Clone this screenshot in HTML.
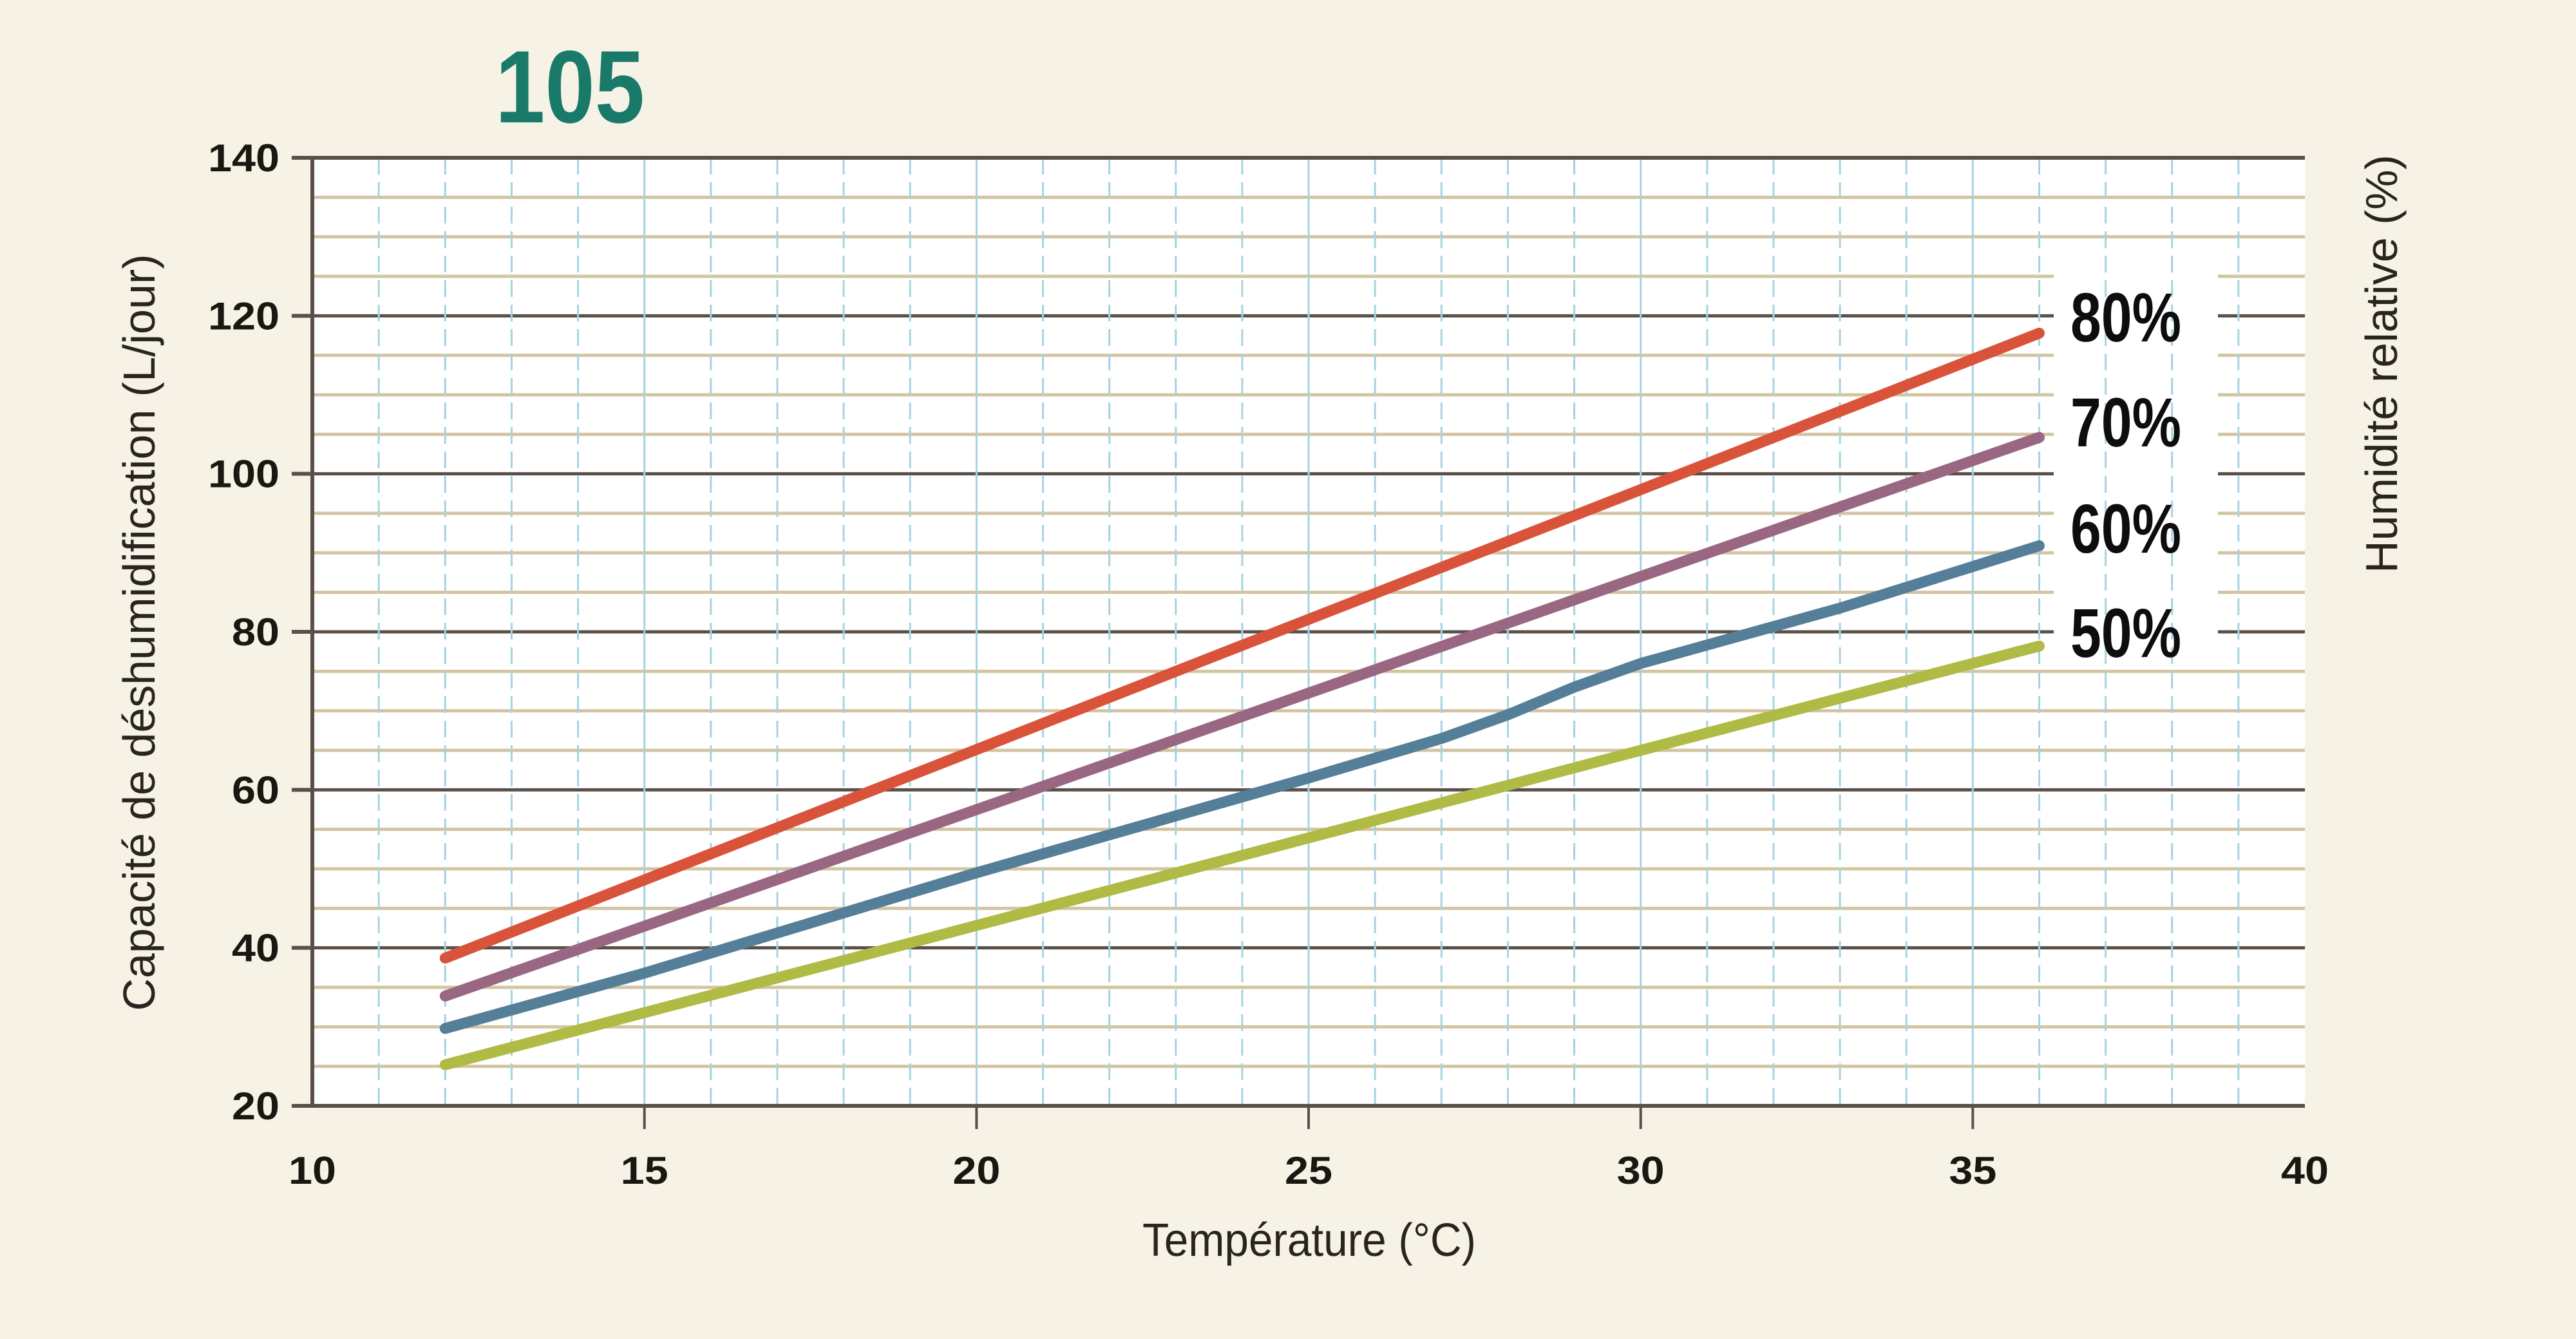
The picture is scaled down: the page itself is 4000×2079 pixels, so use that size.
<!DOCTYPE html>
<html><head><meta charset="utf-8"><style>
html,body{margin:0;padding:0;background:#f6f3e6;}
svg{display:block;}
text{font-family:"Liberation Sans Narrow","Liberation Sans",sans-serif;}
</style></head><body>
<svg id="chart" width="4000" height="2079" viewBox="0 0 4000 2079">
<rect width="4000" height="2079" fill="#f6f3e6"/>
<text x="885" y="190" font-size="160" font-weight="bold" fill="#1a7a6a" text-anchor="middle" textLength="232" lengthAdjust="spacingAndGlyphs">105</text>
<g id="plot"></g>
<text transform="translate(240,982) rotate(-90)" font-size="70" fill="#2a2420" text-anchor="middle">Capacité de déshumidification (L/jour)</text>
<text transform="translate(3722,565) rotate(-90)" font-size="70" fill="#2a2420" text-anchor="middle">Humidité relative (%)</text>
<text x="2033" y="1950" font-size="72" fill="#2a2420" text-anchor="middle" textLength="518" lengthAdjust="spacingAndGlyphs">Température (°C)</text>
</svg>
<script>
const xTicks=[10,15,20,25,30,35,40];
const yTicks=[20,40,60,80,100,120,140];
const seriesNames=["80%","70%","60%","50%"];
const t80=[12,18,24,30,36], v80=[38.7,58.5,78.3,98.0,117.8];
const t70=[12,18,24,30,36], v70=[33.9,51.6,69.3,87.0,104.6];
const t60=[12,15,20,25,27,28,29,30,33,36], v60=[29.8,36.8,49.5,61.5,66.5,69.5,73.0,76.0,83.0,90.9];
const t50=[12,18,24,30,36], v50=[25.2,38.4,51.7,65.0,78.2];
const colors=["#d9533a","#9a6782","#557f99","#afbb45"];

const X0=485,X1=3579,Y0=1717,Y1=245;
const xs=v=>X0+(v-10)/30*(X1-X0);
const ys=v=>Y0-(v-20)/120*(Y0-Y1);
const NS="http://www.w3.org/2000/svg";
const g=document.getElementById('plot');
function mk(tag,attrs,parent){const e=document.createElementNS(NS,tag);for(const k in attrs)e.setAttribute(k,attrs[k]);(parent||g).appendChild(e);return e;}

const bg=mk('rect',{x:X0,y:Y1,width:X1-X0,height:Y0-Y1,fill:'#ffffff'});


for(let v=25;v<140;v+=5){
  const major=(v%20===0);
  const l=mk('line',{x1:X0,x2:X1,y1:ys(v),y2:ys(v),stroke:major?'#5a5048':'#d3c4a2','stroke-width':5});
  
  
}
const wb=mk('rect',{x:3189,y:420,width:255,height:600,fill:'#ffffff'});


for(let v=11;v<40;v++){
  const major=(v%5===0);
  const l=mk('line',{x1:xs(v),x2:xs(v),y1:Y1,y2:Y0,stroke:'#a6d3e2','stroke-width':3});
  if(!major)l.setAttribute('stroke-dasharray','26 12');
  
  
}
const fr=mk('path',{d:`M${X0},${Y1} H${X1} M${X0},${Y1} V${Y0} H${X1}`,stroke:'#5a5048','stroke-width':6,fill:'none'});


yTicks.forEach(v=>{
  const t=mk('line',{x1:453,x2:X0,y1:ys(v),y2:ys(v),stroke:'#5a5048','stroke-width':6});
  
  
  const s=String(v);
  const tx=mk('text',{x:434,y:ys(v)+21,'font-size':60,'font-weight':'bold','text-anchor':'end',fill:'#1a1612',textLength:s.length*37,lengthAdjust:'spacingAndGlyphs'});
  tx.textContent=s;
  
  
});
xTicks.forEach(v=>{
  if(v>10&&v<40){
    const t=mk('line',{x1:xs(v),x2:xs(v),y1:Y0,y2:1753,stroke:'#5a5048','stroke-width':4});
    
    
  }
  const s=String(v);
  const tx=mk('text',{x:xs(v),y:1838,'font-size':60,'font-weight':'bold','text-anchor':'middle',fill:'#1a1612',textLength:s.length*37,lengthAdjust:'spacingAndGlyphs'});
  tx.textContent=s;
  
  
});
const allT=[t80,t70,t60,t50], allV=[v80,v70,v60,v50];
allT.forEach((ts,i)=>{
  const d=ts.map((t,j)=>(j?'L':'M')+xs(t).toFixed(1)+','+ys(allV[i][j]).toFixed(1)).join(' ');
  const p=mk('path',{d:d,stroke:colors[i],'stroke-width':17,fill:'none','stroke-linecap':'round','stroke-linejoin':'round'});
  
  
});
const labelY=[492,655,820,982];
seriesNames.forEach((n,i)=>{
  const tx=mk('text',{x:3301,y:labelY[i]+38,'font-size':108,'font-weight':'bold','text-anchor':'middle',fill:'#0d0d0d',textLength:172,lengthAdjust:'spacingAndGlyphs'});
  tx.textContent=n;
  
  
});
</script>
</body></html>
